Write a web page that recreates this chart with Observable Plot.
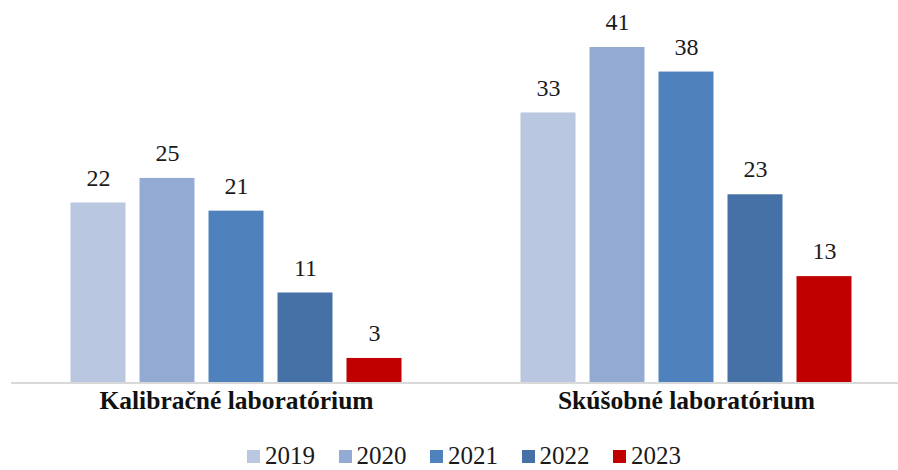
<!DOCTYPE html>
<html><head><meta charset="utf-8">
<script src="https://cdn.jsdelivr.net/npm/d3@7"></script>
<script src="https://cdn.jsdelivr.net/npm/@observablehq/plot@0.6"></script>
<style>
body{margin:0;background:#fff;width:898px;height:470px;overflow:hidden;}
#legend{display:flex;align-items:center;height:28px;padding-top:2px;padding-left:247px;font-family:"Liberation Serif",serif;font-size:25px;color:#1a1a1a;}
#legend .item{display:flex;align-items:center;margin-right:23.5px;}
#legend .sw{width:13px;height:13px;margin-right:5px;}
#legend span{line-height:26px;}
</style>
</head><body><div id="chart"></div><div id="legend"></div>
<script>
const groups = ["Kalibračné laboratórium", "Skúšobné laboratórium"];
const years = ["2019", "2020", "2021", "2022", "2023"];
const kalibracne = [22, 25, 21, 11, 3];
const skusobne = [33, 41, 38, 23, 13];
const colors = ["#bac7e0", "#93abd2", "#4f81bd", "#4571a7", "#c00000"];

const series = [kalibracne, skusobne];
const data = [];
groups.forEach((g, i) => years.forEach((y, j) => data.push({group: g, year: y, value: series[i][j]})));

const plot = Plot.plot({
  width: 898,
  height: 440,
  marginTop: 47,
  marginBottom: 57.5,
  marginLeft: 10.5,
  marginRight: 0,
  fx: {domain: groups, range: [10.5, 910.5], padding: 0, axis: null},
  x: {domain: years, paddingInner: 14 / 69, paddingOuter: 0.862, axis: null},
  y: {domain: [0, 41], axis: null},
  color: {domain: years, range: colors},
  style: {fontFamily: "Liberation Serif, serif", background: "#fff", color: "#1a1a1a"},
  marks: [
    Plot.barY(data, {fx: "group", x: "year", y: "value", fill: "year"}),
    Plot.ruleY([0], {stroke: "#d9d9d9", strokeWidth: 2}),
    Plot.text(data, {fx: "group", x: "year", y: "value", text: "value", dy: -25, fontSize: 24, fill: "#1a1a1a"}),
    Plot.text(groups, {fx: d => d, text: d => d, frameAnchor: "bottom", dy: 26, fontSize: 25.5, fontWeight: "bold", fill: "#111"})
  ]
});
document.getElementById("chart").appendChild(plot);

const legend = d3.select("#legend");
years.forEach((y, i) => {
  const it = legend.append("div").attr("class", "item");
  it.append("div").attr("class", "sw").style("background", colors[i]);
  it.append("span").text(y);
});
</script>
</body></html>
